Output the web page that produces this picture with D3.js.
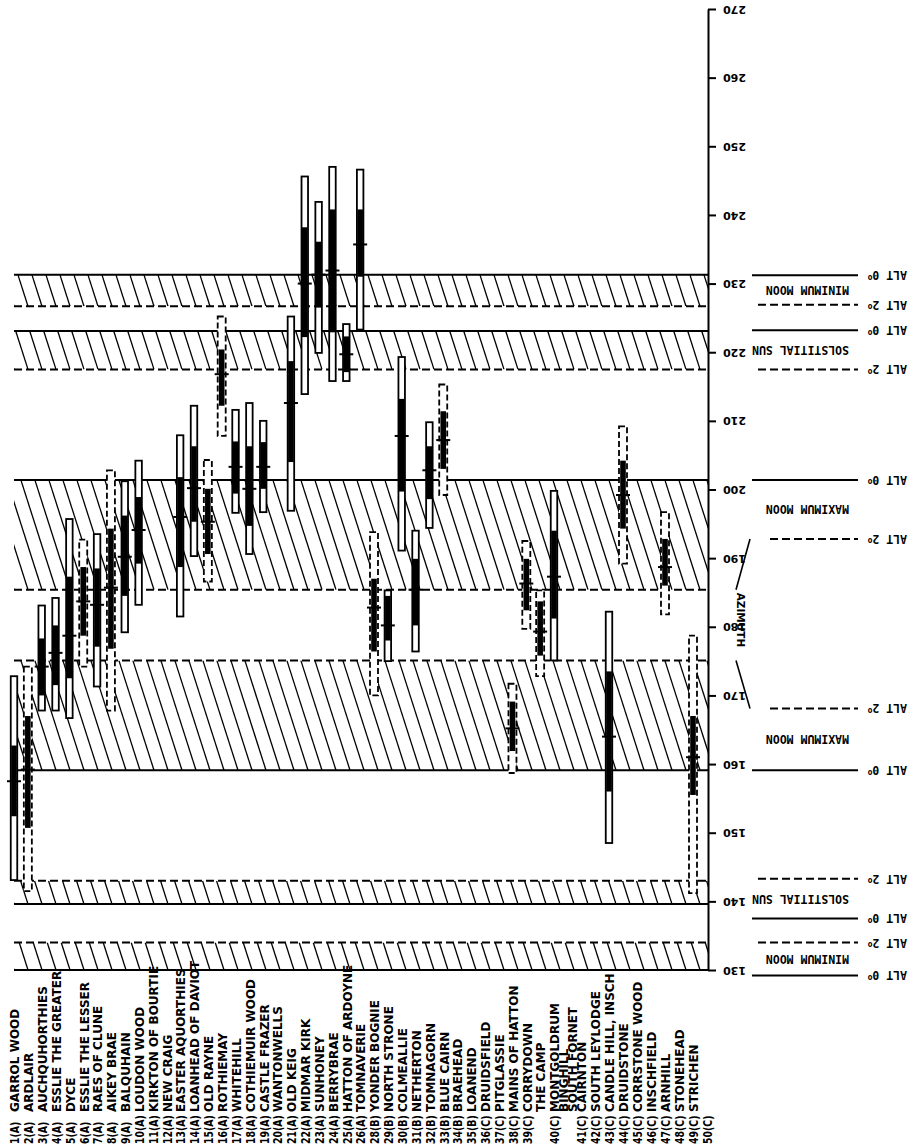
<!DOCTYPE html>
<html>
<head>
<meta charset="utf-8">
<script src="https://cdn.jsdelivr.net/npm/d3@7"></script>
<style>
  body { margin: 0; background: #fff; }
  svg { display: block; }
</style>
</head>
<body>
<svg id="chart" width="913" height="1148"></svg>
<script>
// Recumbent stone circles: azimuth ranges of each site against lunar and solar limits

const siteNames = [
  "GARROL WOOD", "ARDLAIR", "AUCHQUHORTHIES", "ESSLIE THE GREATER", "DYCE",
  "ESSLIE THE LESSER", "RAES OF CLUNE", "AIKEY BRAE", "BALQUHAIN", "LOUDON WOOD",
  "KIRKTON OF BOURTIE", "NEW CRAIG", "EASTER AQUORTHIES", "LOANHEAD OF DAVIOT", "OLD RAYNE",
  "ROTHIEMAY", "WHITEHILL", "COTHIEMUIR WOOD", "CASTLE FRAZER", "WANTONWELLS",
  "OLD KEIG", "MIDMAR KIRK", "SUNHONEY", "BERRYBRAE", "HATTON OF ARDOYNE",
  "TOMNAVERIE", "YONDER BOGNIE", "NORTH STRONE", "COLMEALLIE", "NETHERTON",
  "TOMNAGORN", "BLUE CAIRN", "BRAEHEAD", "LOANEND", "DRUIDSFIELD",
  "PITGLASSIE", "MAINS OF HATTON", "CORRYDOWN", "THE CAMP", "MONTGOLDRUM",
  "BINGHILL", "SOUTH FORNET", "CAIRNTON", "SOUTH LEYLODGE", "CANDLE HILL, INSCH",
  "DRUIDSTONE", "CORRSTONE WOOD", "INSCHFIELD", "ARNHILL", "STONEHEAD",
  "STRICHEN"
];

const siteNumbers = [
  "1(A)", "2(A)", "3(A)", "4(A)", "5(A)", "6(A)", "7(A)", "8(A)", "9(A)", "10(A)",
  "11(A)", "12(A)", "13(A)", "14(A)", "15(A)", "16(A)", "17(A)", "18(A)", "19(A)", "20(A)",
  "21(A)", "22(A)", "23(A)", "24(A)", "25(A)", "26(A)", "28(B)", "29(B)", "30(B)", "31(B)",
  "32(B)", "33(B)", "34(B)", "35(B)", "36(C)", "37(C)", "38(C)", "39(C)", "40(C)", "41(C)",
  "42(C)", "43(C)", "44(C)", "45(C)", "46(C)", "47(C)", "48(C)", "49(C)", "50(C)"
];
// typed line of the number column (in site-name lines)
const numberLine = [
  0, 1, 2, 3, 4, 5, 6, 7, 8, 9, 10, 11, 12, 13, 14, 15, 16, 17, 18, 19,
  20, 21, 22, 23, 24, 25, 26, 27, 28, 29, 30, 31, 32, 33, 34, 35, 36, 37, 39, 42,
  43, 44, 45, 46, 47, 48, 49, 50, 51
];

// one entry per measured site (index into siteNames)
const barSite   = [0, 1, 2, 3, 4, 5, 6, 7, 8, 9, 12, 13, 14, 15, 16, 17, 18, 20, 21, 22, 23, 24, 25,
                   26, 27, 28, 29, 30, 31, 36, 37, 38, 39, 44, 45, 48, 50];
const barDashed = [0, 1, 0, 0, 0, 1, 0, 1, 0, 0, 0, 0, 1, 1, 0, 0, 0, 0, 0, 0, 0, 0, 0,
                   1, 0, 0, 0, 0, 1, 1, 1, 1, 0, 0, 1, 1, 1];
const rangeLow  = [143.1, 141.5, 167.8, 167.8, 166.7, 174.2, 171.3, 167.8, 179.2, 183.2, 181.5, 190.3, 186.6,
                   207.8, 196.6, 190.6, 196.7, 196.9, 213.9, 219.9, 215.8, 215.8, 223.3,
                   170.0, 175.0, 191.1, 176.4, 194.4, 199.2, 158.7, 179.7, 172.8, 175.1, 148.5, 189.2, 181.8, 141.2];
const rangeHigh = [172.8, 174.2, 183.1, 184.2, 195.7, 192.7, 193.5, 202.8, 201.2, 204.2, 207.9, 212.2, 204.3,
                   225.2, 211.6, 212.6, 210.0, 225.2, 245.6, 241.9, 247.0, 224.1, 246.6,
                   193.8, 185.3, 219.3, 194.0, 209.8, 215.3, 171.7, 192.5, 185.3, 199.8, 182.2, 209.2, 196.7, 178.7];
const coreLow   = [152.4, 150.7, 170.0, 171.5, 172.5, 178.7, 177.1, 176.8, 184.5, 189.2, 188.7, 195.3, 190.6,
                   212.2, 199.4, 194.7, 200.1, 204.0, 222.2, 226.5, 222.9, 217.1, 231.0,
                   176.4, 178.0, 199.7, 180.2, 198.6, 203.0, 161.9, 182.4, 175.8, 181.2, 156.0, 194.3, 186.0, 155.5];
const coreHigh  = [162.7, 167.0, 178.3, 180.2, 187.3, 188.7, 188.5, 194.3, 196.2, 198.9, 201.8, 206.3, 200.1,
                   220.4, 207.0, 206.3, 206.9, 218.7, 238.2, 236.1, 240.8, 222.3, 240.8,
                   187.0, 184.5, 213.2, 189.9, 206.3, 211.4, 169.1, 189.9, 183.7, 194.0, 173.5, 204.2, 192.8, 167.0];
const meanAz    = [157.5, 159.2, 174.2, 176.2, 178.7, 183.7, 183.2, 185.7, 190.2, 194.1, 196.0, 200.2, 195.3,
                   216.8, 203.3, 200.1, 203.3, 212.6, 230.0, 231.3, 231.9, 219.7, 235.7,
                   182.8, 180.2, 207.8, 185.4, 202.8, 207.2, 165.2, 186.3, 179.3, 187.3, 164.0, 199.2, 188.7, 161.0];

// hatched limit bands: horizon altitude 0 deg (solid edge) and 2 deg (dashed edge)
const bandAlt0 = [231.3, 223.1, 201.4, 159.1, 139.6, 130.0];
const bandAlt2 = [226.7, 217.5, 185.4, 175.1, 143.0, 134.0];
const bandNames = ["MINIMUM MOON", "SOLSTITIAL SUN", "MAXIMUM MOON", "MAXIMUM MOON", "SOLSTITIAL SUN", "MINIMUM MOON"];
// key lines at the right of the axis
const keyAlt0 = [231.2, 223.2, 201.4, 159.1, 137.5, 129.2];
const keyAlt2 = [226.9, 217.5, 192.8, 168.1, 143.3, 134.0];

const azTicks = d3.range(130, 271, 10);

const svg = d3.select("#chart");
const left = 14, axisX = 708;

const y = d3.scaleLinear().domain([130, 270]).range([970, 9]);
const x = d3.scaleLinear().domain([0, 39, 42, 50]).range([14, 554, 581, 693]);

// ---- hatched bands ----
const slope = 0.32, hatchStep = 14;
const bands = svg.append("g");
bandAlt0.forEach((a0, i) => {
  const a2 = bandAlt2[i];
  const top = y(Math.max(a0, a2)), bot = y(Math.min(a0, a2));
  const h = bot - top;
  const id = "band" + i;
  svg.append("clipPath").attr("id", id)
    .append("rect").attr("x", left).attr("y", top).attr("width", axisX - left).attr("height", h);
  const g = bands.append("g").attr("clip-path", `url(#${id})`);
  const starts = d3.range(left - slope * h - hatchStep, axisX + hatchStep, hatchStep);
  g.selectAll("line").data(starts).join("line")
    .attr("x1", d => d).attr("y1", top)
    .attr("x2", d => d + slope * h).attr("y2", bot)
    .attr("stroke", "#000").attr("stroke-width", 1.3);
  bands.append("line")
    .attr("x1", left).attr("x2", axisX).attr("y1", y(a0)).attr("y2", y(a0))
    .attr("stroke", "#000").attr("stroke-width", 2);
  bands.append("line")
    .attr("x1", left).attr("x2", axisX).attr("y1", y(a2)).attr("y2", y(a2))
    .attr("stroke", "#000").attr("stroke-width", 2).attr("stroke-dasharray", "8,4");
});

// ---- site bars ----
const bars = svg.append("g");
barSite.forEach((s, i) => {
  const cx = x(s);
  const dashed = barDashed[i] === 1;
  const w = dashed ? 8 : 6.5;
  bars.append("rect")
    .attr("x", cx - w / 2).attr("y", y(rangeHigh[i]))
    .attr("width", w).attr("height", y(rangeLow[i]) - y(rangeHigh[i]))
    .attr("fill", "#fff").attr("stroke", "#000").attr("stroke-width", 1.8)
    .attr("stroke-dasharray", dashed ? "6,3" : null);
  bars.append("rect")
    .attr("x", cx - 2.8).attr("y", y(coreHigh[i]))
    .attr("width", 5.6).attr("height", y(coreLow[i]) - y(coreHigh[i]))
    .attr("fill", "#000");
  bars.append("line")
    .attr("x1", cx - 7).attr("x2", cx + 7)
    .attr("y1", y(meanAz[i])).attr("y2", y(meanAz[i]))
    .attr("stroke", "#000").attr("stroke-width", 2);
});

// ---- azimuth axis ----
const axis = svg.append("g").attr("transform", `translate(${axisX},0)`)
  .call(d3.axisRight(y).tickValues(azTicks).tickSize(8).tickSizeOuter(0).tickFormat(d3.format("d")));
axis.select(".domain").attr("stroke-width", 2);
axis.selectAll(".tick line").attr("stroke-width", 2);
axis.selectAll(".tick text")
  .attr("x", null).attr("dy", "0.35em")
  .attr("transform", "translate(38,0) rotate(180)")
  .attr("text-anchor", "start")
  .attr("font-family", "'DejaVu Sans', sans-serif").attr("font-weight", "bold")
  .attr("font-size", 11).attr("fill", "#000");

svg.append("text")
  .attr("transform", `translate(741,620) rotate(90)`)
  .attr("text-anchor", "middle").attr("dy", "0.35em")
  .attr("font-family", "'DejaVu Sans', sans-serif").attr("font-weight", "bold")
  .attr("font-size", 10.5).text("AZIMUTH");

// ---- key on the right ----
const key = svg.append("g");
const keyText = (xx, yy, str, deg) => {
  const t = key.append("text")
    .attr("transform", `translate(${xx},${yy}) rotate(180)`)
    .attr("dy", "0.35em").attr("text-anchor", "start")
    .attr("font-family", "'DejaVu Sans Mono', monospace").attr("font-weight", "bold")
    .attr("font-size", 11.5);
  t.append("tspan").text(str);
  if (deg) t.append("tspan").attr("dy", "-0.45em").attr("font-size", 8).text("o");
};
keyAlt0.forEach((a0, i) => {
  const a2 = keyAlt2[i];
  key.append("line").attr("x1", 752).attr("x2", 858).attr("y1", y(a0)).attr("y2", y(a0))
    .attr("stroke", "#000").attr("stroke-width", 2);
  const dashStart = (i === 2 || i === 3) ? 770 : 758;
  key.append("line").attr("x1", dashStart).attr("x2", 858).attr("y1", y(a2)).attr("y2", y(a2))
    .attr("stroke", "#000").attr("stroke-width", 2).attr("stroke-dasharray", "8,4");
  keyText(907, y(a0), "ALT 0", true);
  keyText(907, y(a2), "ALT 2", true);
  keyText(849, (y(a0) + y(a2)) / 2, bandNames[i], false);
  if (i === 2 || i === 3) {
    key.append("line")
      .attr("x1", 750).attr("y1", y(a2)).attr("x2", 736).attr("y2", y(bandAlt2[i]))
      .attr("stroke", "#000").attr("stroke-width", 1.6);
  }
});

// ---- site labels ----
const labelFont = "'DejaVu Sans', sans-serif";
svg.append("g").selectAll("text").data(siteNames).join("text")
  .attr("transform", (d, i) => `translate(${x(i) + 5.3},1112) rotate(-90)`)
  .attr("text-anchor", "start")
  .attr("font-family", labelFont).attr("font-weight", "bold").attr("font-size", 12)
  .text(d => d);
svg.append("g").selectAll("text").data(siteNumbers).join("text")
  .attr("transform", (d, i) => `translate(${x(numberLine[i]) + 5.3},1144) rotate(-90) scale(0.78,1)`)
  .attr("text-anchor", "start")
  .attr("font-family", labelFont).attr("font-weight", "bold").attr("font-size", 12)
  .text(d => d);
</script>
</body>
</html>
